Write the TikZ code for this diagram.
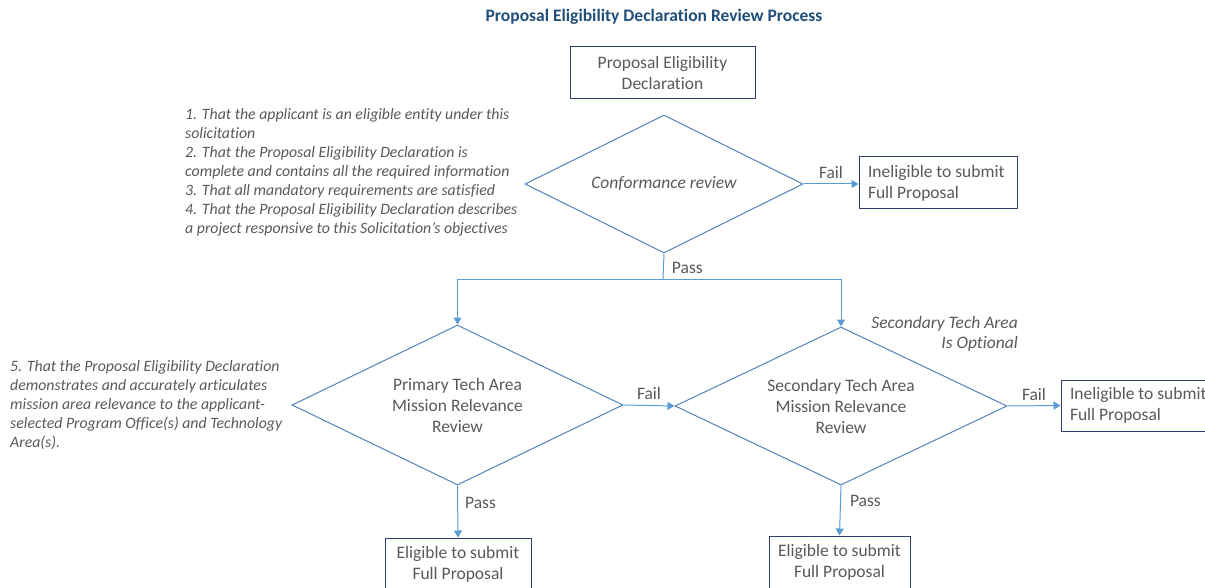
\documentclass[tikz,border=0pt]{standalone}
\usepackage{fontspec}
\setmainfont[Ligatures=NoCommon]{Carlito}
\usetikzlibrary{shapes.geometric}
\usetikzlibrary{arrows.meta}
\definecolor{boxblue}{RGB}{47,62,110}
\definecolor{dmdblue}{RGB}{84,130,186}
\definecolor{linkblue}{RGB}{91,155,213}
\definecolor{txtgray}{RGB}{89,89,89}
\definecolor{ttlblue}{RGB}{31,78,121}
\tikzset{
  outbox/.style={draw=boxblue, line width=1pt, text=txtgray, align=center,
    inner sep=0pt, font=\fontsize{17.5}{21}\selectfont},
  failbox/.style={outbox, align=flush left, text width=140pt, inner xsep=9pt},
  check/.style={draw=dmdblue, line width=1pt, diamond, aspect=2, inner sep=0pt, text=txtgray,
    align=center, font=\fontsize{17.5}{21}\selectfont},
  link/.style={draw=linkblue, line width=1pt, -{Triangle[length=7pt,width=8pt]}},
  lbl/.style={text=txtgray, font=\fontsize{17.5}{21}\selectfont, inner sep=5pt},
  note/.style={text=txtgray, inner sep=0pt, font=\itshape\fontsize{15.8}{19}\selectfont}
}
\begin{document}
\begin{tikzpicture}[x=1pt, y=-1pt]
\useasboundingbox (0,0) rectangle (1205,588);
\clip (0,0) rectangle (1205,588);
\node [text=ttlblue, font=\bfseries\fontsize{17.5}{21}\selectfont] (title) at (654,17) {Proposal Eligibility Declaration Review Process};
% first stage
\node [outbox, minimum width=185pt, minimum height=52pt] (decl) at (662.5,73) {Proposal Eligibility\\Declaration};
\node [check, minimum width=278pt, minimum height=138pt] (conf) at (664,184) {\itshape Conformance review};
\node [failbox, minimum height=52pt] (inel1) at (938,183) {Ineligible to submit\\Full Proposal};
\node [note, anchor=north west, align=left] (crit1) at (185,108.5) {1. That the applicant is an eligible entity under this\\solicitation\\2. That the Proposal Eligibility Declaration is\\complete and contains all the required information\\3. That all mandatory requirements are satisfied\\4. That the Proposal Eligibility Declaration describes\\a project responsive to this Solicitation’s objectives};
% tech area stage
\node [check, minimum width=331pt, minimum height=160pt] (prim) at (457.5,405) {Primary Tech Area\\Mission Relevance\\Review};
\node [check, minimum width=332pt, minimum height=158pt] (sec) at (841,406) {Secondary Tech Area\\Mission Relevance\\Review};
\node [failbox, minimum height=51pt] (inel2) at (1140,405.5) {Ineligible to submit\\Full Proposal};
\node [outbox, minimum width=146pt, minimum height=52pt] (elig1) at (458,564) {Eligible to submit\\Full Proposal};
\node [outbox, minimum width=141pt, minimum height=52pt] (elig2) at (839.5,562) {Eligible to submit\\Full Proposal};
\node [note, anchor=north east, align=right, font=\itshape\fontsize{17.5}{20}\selectfont] (optional) at (1018,316) {Secondary Tech Area\\Is Optional};
\node [note, anchor=north west, align=left] (crit2) at (10,360.5) {5. That the Proposal Eligibility Declaration\\demonstrates and accurately articulates\\mission area relevance to the applicant-\\selected Program Office(s) and Technology\\Area(s).};
% connectors
\coordinate (split) at (663,279);
\draw [link] (conf.east) -- (conf.east -| inel1.west) node [lbl, midway, above] {Fail};
\draw [link, -] (conf.south) -- (split) node [lbl, pos=0.55, right, xshift=3pt] {Pass};
\draw [link] (split) -| (prim.north);
\draw [link] (split) -| (sec.north);
\draw [link] (prim.east) -- (sec.west) node [lbl, midway, above] {Fail};
\draw [link] (sec.east) -- (inel2.west) node [lbl, midway, above] {Fail};
\draw [link] (prim.south) -- (elig1.north) node [lbl, pos=0.33, right, xshift=2pt] {Pass};
\draw [link] (sec.south) -- (elig2.north) node [lbl, pos=0.3, right, xshift=4pt] {Pass};
\end{tikzpicture}
\end{document}
